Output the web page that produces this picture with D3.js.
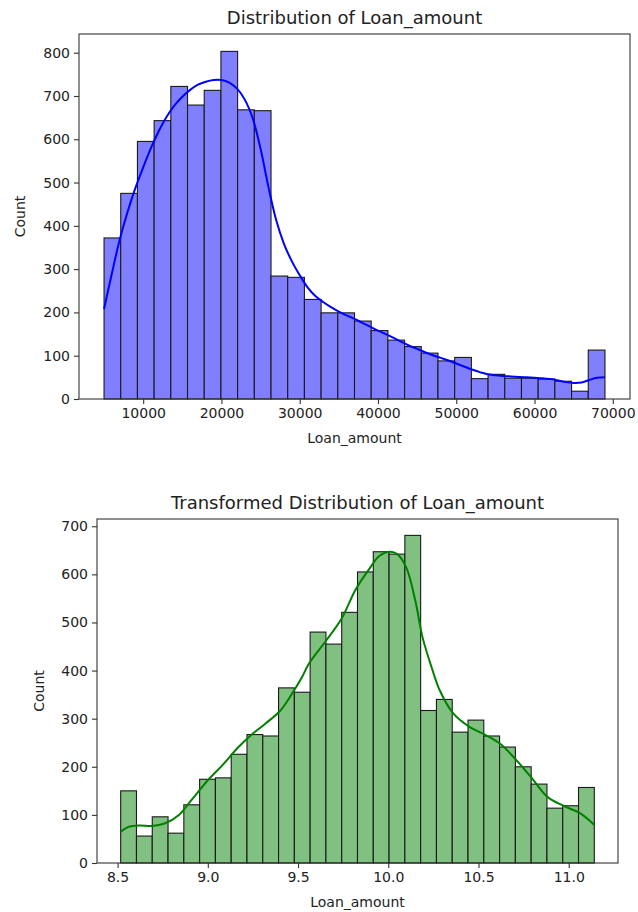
<!DOCTYPE html>
<html>
<head>
<meta charset="utf-8">
<script src="https://cdn.jsdelivr.net/npm/d3@7"></script>
<style>
  body { margin: 0; background: #fff; }
  text { font-family: "DejaVu Sans", sans-serif; fill: #222; }
</style>
</head>
<body>
<div id="chart"></div>
<script>
// raw loan amounts: 30 bins between 5000 and 69000
const rawRange = [5000, 69000];
const rawCounts = [372, 475, 595, 643, 722, 679, 713, 803, 668, 666,
  284, 281, 230, 199, 199, 180, 158, 136, 121, 106,
  88, 96, 47, 57, 48, 48, 46, 41, 18, 113];
const rawKdeX = [5000, 6000, 7000, 8000, 9000, 10000, 11000, 12000, 13000, 14000,
  15000, 16000, 17000, 18000, 19000, 20000, 21000, 22000, 23000, 24000,
  25000, 26000, 27000, 28000, 29000, 30000, 31000, 32000, 33000, 34000,
  35000, 36000, 37000, 38000, 39000, 40000, 41000, 42000, 43000, 44000,
  45000, 46000, 47000, 48000, 49000, 50000, 51000, 52000, 53000, 54000,
  55000, 56000, 57000, 58000, 59000, 60000, 61000, 62000, 63000, 64000,
  65000, 66000, 67000, 68000, 69000];
const rawKdeY = [208, 290, 368, 432, 487, 535, 580, 619, 652, 678,
  698, 714, 726, 733, 737, 737, 731, 717, 691, 648,
  578, 490, 413, 358, 318, 286, 258, 238, 224, 212,
  202, 193, 185, 176, 167, 158, 150, 141, 132, 123,
  116, 108, 101, 95, 89, 82, 75, 68, 62, 57,
  55, 53, 52, 51, 50, 49, 48, 46, 43, 39,
  37, 38, 44, 49, 50];
const rawXTicks = [10000, 20000, 30000, 40000, 50000, 60000, 70000];
const rawYTicks = [0, 100, 200, 300, 400, 500, 600, 700, 800];

// log transformed: 30 bins between ln(5000) and ln(69000)
const logRange = [8.5172, 11.1418];
const logCounts = [150, 56, 96, 62, 121, 174, 177, 226, 267, 264,
  364, 355, 480, 455, 521, 605, 647, 642, 681, 317,
  340, 272, 297, 264, 241, 200, 164, 114, 119, 157];
const logKdeX = [8.517, 8.56, 8.62, 8.69, 8.76, 8.84, 8.91, 9.0, 9.08, 9.17,
  9.25, 9.32, 9.4, 9.46, 9.52, 9.56, 9.655, 9.74, 9.82, 9.9,
  9.95, 10.01, 10.05, 10.1, 10.15, 10.19, 10.24, 10.285, 10.36, 10.45,
  10.54, 10.62, 10.69, 10.79, 10.88, 10.97, 11.06, 11.142];
const logKdeY = [65, 75, 78, 77, 82, 100, 131, 172, 203, 241,
  269, 290, 316, 348, 385, 414, 462, 507, 569, 614,
  638, 647, 642, 614, 545, 469, 407, 359, 311, 283,
  266, 248, 222, 179, 138, 119, 104, 79];
const logXTicks = [8.5, 9.0, 9.5, 10.0, 10.5, 11.0];
const logYTicks = [0, 100, 200, 300, 400, 500, 600, 700];

const svg = d3.select('#chart')
  .append('svg')
  .attr('width', 638)
  .attr('height', 912);

function drawHist(opt) {
  const { left, right, top, bottom } = opt;
  const n = opt.counts.length;
  const step = (opt.range[1] - opt.range[0]) / n;
  const bins = opt.counts.map((c, i) => ({
    x0: opt.range[0] + i * step,
    x1: opt.range[0] + (i + 1) * step,
    count: c
  }));

  // matplotlib style 5% margins on x, 5% headroom on y
  const pad = (opt.range[1] - opt.range[0]) * 0.05;
  const x = d3.scaleLinear()
    .domain([opt.range[0] - pad, opt.range[1] + pad])
    .range([left, right]);
  const y = d3.scaleLinear()
    .domain([0, d3.max(opt.counts) * 1.05])
    .range([bottom, top]);

  const g = svg.append('g');

  // bars
  g.append('g')
    .selectAll('rect')
    .data(bins)
    .join('rect')
    .attr('x', d => x(d.x0))
    .attr('y', d => y(d.count))
    .attr('width', d => x(d.x1) - x(d.x0))
    .attr('height', d => y(0) - y(d.count))
    .attr('fill', opt.fill)
    .attr('stroke', '#1a1a1a')
    .attr('stroke-width', 1.1);

  // kde line
  const line = d3.line()
    .x(d => x(d[0]))
    .y(d => y(d[1]))
    .curve(d3.curveCatmullRom);
  g.append('path')
    .datum(opt.kdeX.map((v, i) => [v, opt.kdeY[i]]))
    .attr('d', line)
    .attr('fill', 'none')
    .attr('stroke', opt.line)
    .attr('stroke-width', 2);

  // axes
  const xAxis = g.append('g')
    .attr('transform', `translate(0,${bottom})`)
    .call(d3.axisBottom(x).tickValues(opt.xTicks).tickFormat(opt.xFormat)
      .tickSizeInner(5).tickSizeOuter(0).tickPadding(4));
  const yAxis = g.append('g')
    .attr('transform', `translate(${left},0)`)
    .call(d3.axisLeft(y).tickValues(opt.yTicks)
      .tickSizeInner(5).tickSizeOuter(0).tickPadding(4));
  [xAxis, yAxis].forEach(a => {
    a.select('.domain').remove();
    a.selectAll('line').attr('stroke', '#333').attr('stroke-width', 1.1);
    a.selectAll('text').style('font-size', '14px').attr('fill', '#222');
  });

  // frame
  g.append('rect')
    .attr('x', left)
    .attr('y', top)
    .attr('width', right - left)
    .attr('height', bottom - top)
    .attr('fill', 'none')
    .attr('stroke', '#333')
    .attr('stroke-width', 1.1);

  // labels
  g.append('text')
    .attr('x', (left + right) / 2)
    .attr('y', top - 10)
    .attr('text-anchor', 'middle')
    .style('font-size', '18px')
    .text(opt.title);
  g.append('text')
    .attr('x', (left + right) / 2)
    .attr('y', bottom + 44)
    .attr('text-anchor', 'middle')
    .style('font-size', '14px')
    .text('Loan_amount');
  g.append('text')
    .attr('transform', `translate(${opt.yLabelX},${(top + bottom) / 2}) rotate(-90)`)
    .attr('text-anchor', 'middle')
    .style('font-size', '14px')
    .text('Count');
}

drawHist({
  title: 'Distribution of Loan_amount',
  range: rawRange, counts: rawCounts, kdeX: rawKdeX, kdeY: rawKdeY,
  xTicks: rawXTicks, yTicks: rawYTicks, xFormat: d3.format('d'),
  left: 79, right: 630, top: 34, bottom: 399, yLabelX: 25,
  fill: '#8080ff', line: '#0000ff'
});

drawHist({
  title: 'Transformed Distribution of Loan_amount',
  range: logRange, counts: logCounts, kdeX: logKdeX, kdeY: logKdeY,
  xTicks: logXTicks, yTicks: logYTicks, xFormat: d3.format('.1f'),
  left: 97, right: 618, top: 519, bottom: 863, yLabelX: 44,
  fill: '#80c080', line: '#008000'
});
</script>
</body>
</html>
